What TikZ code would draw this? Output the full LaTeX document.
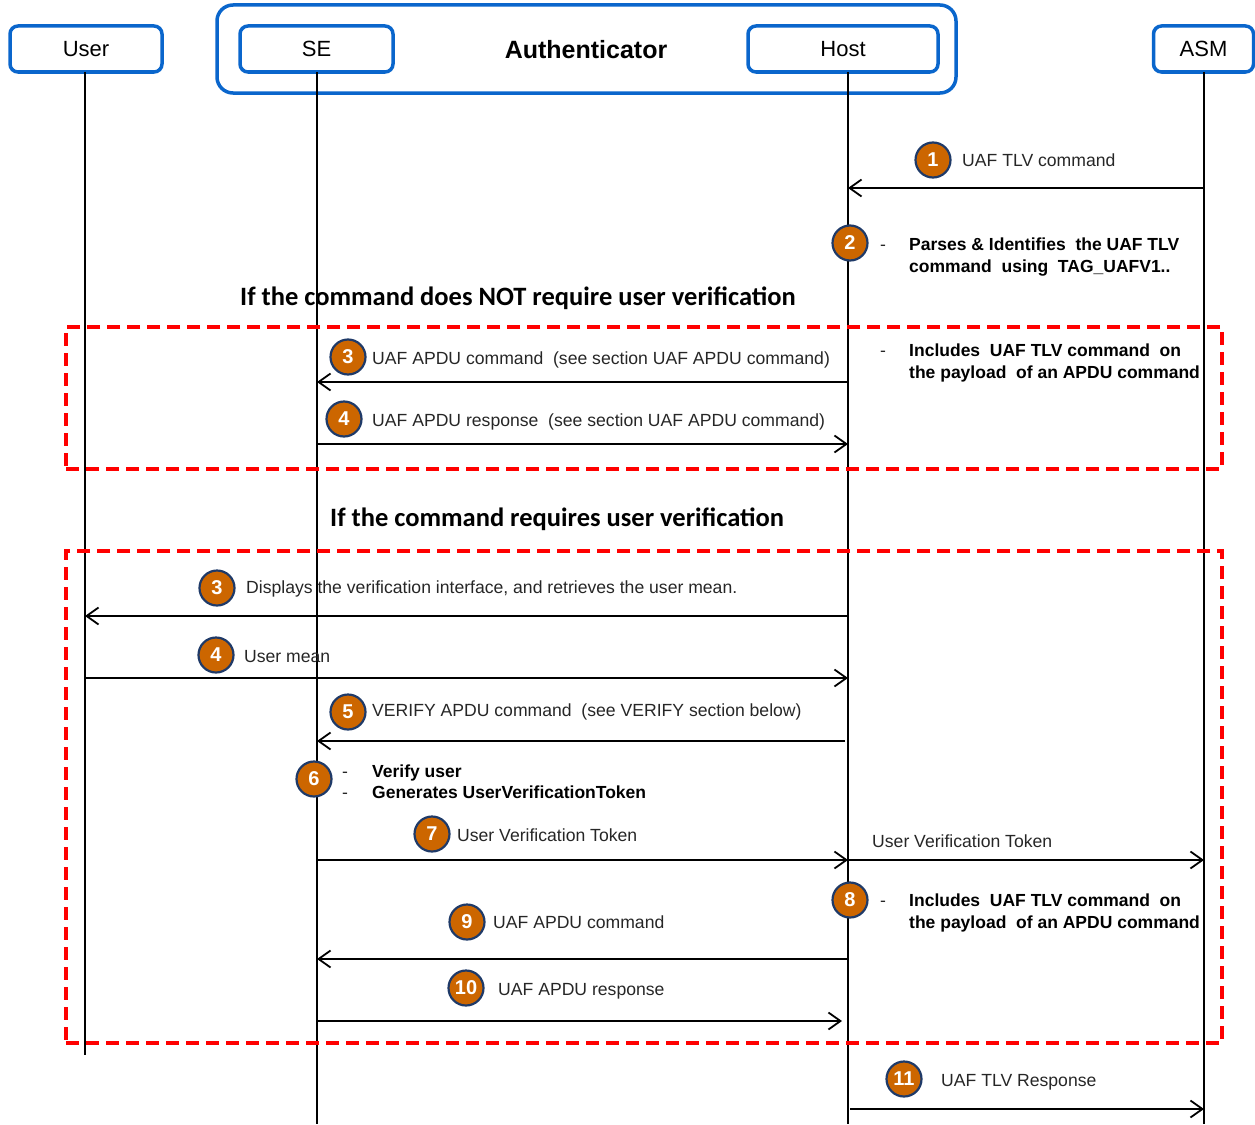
\documentclass[tikz,border=0pt]{standalone}
\usepackage{fontspec}
\setmainfont{Liberation Sans}
\newfontfamily\calib{Carlito}
\usetikzlibrary{arrows.meta}
\definecolor{boxblue}{HTML}{0A66CC}
\definecolor{numorange}{HTML}{CC6600}
\definecolor{numborder}{HTML}{1F3A68}
\definecolor{dashred}{HTML}{FF0000}
\definecolor{txt}{HTML}{262626}
\begin{document}
\begin{tikzpicture}[x=1pt,y=-1pt,
  actor/.style={draw=boxblue, line width=3.5pt, rounded corners=8pt, minimum height=46pt, inner sep=0pt, font=\fontsize{22}{26}\selectfont},
  group/.style={draw=boxblue, line width=3.5pt, rounded corners=16pt, inner sep=0pt},
  life/.style={line width=1.6pt, black},
  msg/.style={line width=1.8pt, black, -{Straight Barb[length=12pt,width=17pt]}},
  num/.style={circle, fill=numorange, draw=numborder, line width=2.2pt, minimum size=35pt, inner sep=0pt, text=white, font=\bfseries\fontsize{20}{20}\selectfont},
  lbl/.style={anchor=base west, inner sep=0pt, text=txt, font=\fontsize{17.6}{21}\selectfont},
  blbl/.style={anchor=base west, inner sep=0pt, text=black, font=\bfseries\fontsize{17.5}{21}\selectfont},
  head/.style={anchor=base west, inner sep=0pt, text=black, font=\calib\bfseries\fontsize{26.5}{30}\selectfont},
  frame/.style={draw=dashred, line width=3.5pt, dash pattern=on 13pt off 7pt, inner sep=0pt}
]
\useasboundingbox (0,0) rectangle (1255,1124);

% actors
\node[group, minimum width=739pt, minimum height=88pt] (auth) at (586.5,49) {};
\node[font=\bfseries\fontsize{25}{29}\selectfont] (authlbl) at (586,50) {Authenticator};
\node[actor, minimum width=152pt] (user) at (86,49) {User};
\node[actor, minimum width=153pt] (se) at (316.5,49) {SE};
\node[actor, minimum width=190pt] (host) at (843,49) {Host};
\node[actor, minimum width=100pt] (asm) at (1203.5,49) {ASM};

% lifelines
\coordinate (userT) at (85,72);   \coordinate (userB) at (85,1055);
\coordinate (seT) at (317,72);    \coordinate (seB) at (317,1124);
\coordinate (hostT) at (848,72);  \coordinate (hostB) at (848,1124);
\coordinate (asmT) at (1204,72);  \coordinate (asmB) at (1204,1124);
\draw[life] (userT) -- (userB);
\draw[life] (seT) -- (seB);
\draw[life] (hostT) -- (hostB);
\draw[life] (asmT) -- (asmB);

% frames
\node[frame, minimum width=1156pt, minimum height=142pt] (frameA) at (644,398) {};
\node[frame, minimum width=1156pt, minimum height=492pt] (frameB) at (644,797) {};

% row coordinates
\coordinate (r1) at (0,188);
\coordinate (r3) at (0,382);
\coordinate (r4) at (0,444);
\coordinate (s3) at (0,616);
\coordinate (s4) at (0,678);
\coordinate (s5) at (0,741);
\coordinate (s7) at (0,860);
\coordinate (s9) at (0,959);
\coordinate (s10) at (0,1021);
\coordinate (s11) at (0,1109);

% step 1
\draw[msg] (asmT |- r1) -- (hostT |- r1);
\node[num] (n1) at (933,160) {1};
\node[lbl] (t1) at (962,166) {UAF TLV command};

% step 2
\node[num] (n2) at (850,243) {2};
\node[lbl] (d2) at (880,250) {-};
\node[blbl] (t2a) at (909,250) {Parses \& Identifies\ \ the UAF TLV};
\node[blbl] (t2b) at (909,272) {command\ \ using\ \ TAG\_UAFV1..};

% section 1
\node[head] (h1) at (240,305) {If the command does NOT require user verification};

\draw[msg] (hostT |- r3) -- (seT |- r3);
\node[num] (n3a) at (348,357) {3};
\node[lbl] (t3a) at (372,364) {UAF APDU command\ \ (see section UAF APDU command)};
\draw[msg] (seT |- r4) -- (hostT |- r4);
\node[num] (n4a) at (344,419) {4};
\node[lbl] (t4a) at (372,426) {UAF APDU response\ \ (see section UAF APDU command)};
\node[lbl] (d3) at (880,356) {-};
\node[blbl] (t3b) at (909,356) {Includes\ \ UAF TLV command\ \ on};
\node[blbl] (t3c) at (909,378) {the payload\ \ of an APDU command};

% section 2
\node[head] (h2) at (330,526) {If the command requires user verification};

\draw[msg] (hostT |- s3) -- (userT |- s3);
\node[num] (n3b) at (217,588) {3};
\node[lbl] (t3d) at (246,593) {Displays the verification interface, and retrieves the user mean.};
\draw[msg] (userT |- s4) -- (hostT |- s4);
\node[num] (n4b) at (216,655) {4};
\node[lbl] (t4b) at (244,662) {User mean};
\coordinate (h5) at (845,741);
\draw[msg] (h5) -- (seT |- s5);
\node[num] (n5) at (348,712) {5};
\node[lbl] (t5) at (372,716) {VERIFY APDU command\ \ (see VERIFY section below)};
\node[num] (n6) at (314,779) {6};
\node[lbl] (d6a) at (342,777) {-};
\node[lbl] (d6b) at (342,798) {-};
\node[blbl] (t6a) at (372,777) {Verify user};
\node[blbl] (t6b) at (372,798) {Generates UserVerificationToken};
\draw[msg] (seT |- s7) -- (hostT |- s7);
\draw[msg] (hostT |- s7) -- (asmT |- s7);
\node[num] (n7) at (432,834) {7};
\node[lbl] (t7) at (457,841) {User Verification Token};
\node[lbl] (t7b) at (872,847) {User Verification Token};
\node[num] (n8) at (850,900) {8};
\node[lbl] (d8) at (880,906) {-};
\node[blbl] (t8a) at (909,906) {Includes\ \ UAF TLV command\ \ on};
\node[blbl] (t8b) at (909,928) {the payload\ \ of an APDU command};
\draw[msg] (hostT |- s9) -- (seT |- s9);
\node[num] (n9) at (467,922) {9};
\node[lbl] (t9) at (493,928) {UAF APDU command};
\coordinate (h10) at (842,1021);
\draw[msg] (seT |- s10) -- (h10);
\node[num] (n10) at (466,988) {10};
\node[lbl] (t10) at (498,995) {UAF APDU response};

% step 11
\coordinate (h11) at (850,1109);
\draw[msg] (h11) -- (asmT |- s11);
\node[num] (n11) at (904,1079) {11};
\node[lbl] (t11) at (941,1086) {UAF TLV Response};
\end{tikzpicture}
\end{document}
